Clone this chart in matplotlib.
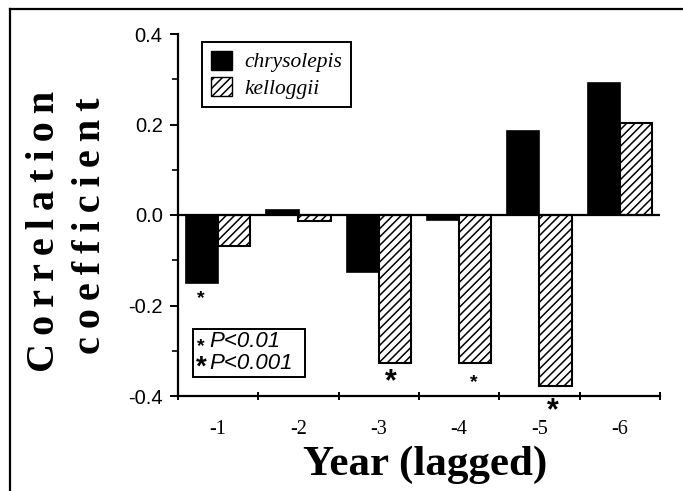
import matplotlib
matplotlib.use("Agg")
import matplotlib.pyplot as plt
import numpy as np
from matplotlib.patches import Rectangle, Patch
from matplotlib.lines import Line2D

# ---- data ----
lags = ["-1", "-2", "-3", "-4", "-5", "-6"]
chrysolepis = [-0.151, 0.012, -0.126, -0.010, 0.186, 0.292]
kelloggii = [-0.069, -0.013, -0.328, -0.328, -0.378, 0.204]
series_names = ["chrysolepis", "kelloggii"]
# significance marks: (lag, series, level)
significance = [("-1", "chrysolepis", "P<0.01"),
                ("-3", "kelloggii", "P<0.001"),
                ("-4", "kelloggii", "P<0.01"),
                ("-5", "kelloggii", "P<0.001")]
yticks = [-0.4, -0.2, 0.0, 0.2, 0.4]
ytick_labels = ["-0.4", "-0.2", "0.0", "0.2", "0.4"]

# placement of the significance marks below the bars (points)
sig_offsets = [(-1, -14), (-3, -19), (-1, -17), (-2, -24)]

plt.rcParams['axes.unicode_minus'] = False
plt.rcParams['hatch.linewidth'] = 1.1
plt.rcParams['hatch.color'] = 'black'

W, H = 683, 491
fig = plt.figure(figsize=(W / 100, H / 100), dpi=100)
L, R, T, B = 178, 660, 34, 396
ax = fig.add_axes([L / W, 1 - B / H, (R - L) / W, (B - T) / H])

x = np.arange(len(lags))
bw = 0.4
ax.bar(x - bw / 2, chrysolepis, bw, color='black', edgecolor='black', linewidth=1.2)
ax.bar(x + bw / 2, kelloggii, bw, color='white', edgecolor='black', linewidth=1.5, hatch='////')

ax.set_xlim(-0.5, len(lags) - 0.5)
ax.set_ylim(-0.4, 0.4)
ax.axhline(0, color='black', linewidth=1.6, zorder=3)

for s in ['top', 'right']:
    ax.spines[s].set_visible(False)
ax.spines['left'].set_linewidth(1.6)
ax.spines['bottom'].set_linewidth(1.6)

ax.set_yticks(yticks)
ax.set_yticklabels(ytick_labels, fontfamily='Liberation Sans', fontsize=14.5)
ax.set_yticks([-0.3, -0.1, 0.1, 0.3], minor=True)
ax.tick_params(axis='y', which='major', direction='out', length=6, width=1.4, pad=5)
ax.tick_params(axis='y', which='minor', direction='out', length=4, width=1.2)

ax.set_xticks(x)
ax.set_xticklabels(lags, fontfamily='Liberation Serif', fontsize=14.5)
ax.set_xticks(np.arange(-0.5, len(lags)), minor=True)
ax.tick_params(axis='x', which='major', length=0, pad=17)
ax.tick_params(axis='x', which='minor', direction='inout', length=6, width=1.4)

# significance asterisks
vals = {"chrysolepis": chrysolepis, "kelloggii": kelloggii}
offs = {"chrysolepis": -bw / 2, "kelloggii": bw / 2}
for (lag, ser, lev), (dx, dy) in zip(significance, sig_offsets):
    i = lags.index(lag)
    v = vals[ser][i]
    size = 14 if lev == "P<0.01" else 22
    ax.annotate("*", (i + offs[ser], v), xytext=(dx, dy), textcoords='offset points',
                ha='center', va='baseline', fontsize=size, fontweight='bold',
                fontfamily='Liberation Sans', annotation_clip=False)

# species legend
handles = [Patch(facecolor='black', edgecolor='black'),
           Patch(facecolor='white', edgecolor='black', hatch='////')]
leg = ax.legend(handles, series_names, loc='upper left',
                bbox_to_anchor=((202 - L) / (R - L), (B - 42) / (B - T)),
                prop={'family': 'Liberation Serif', 'style': 'italic', 'size': 15.5},
                frameon=True, fancybox=False, edgecolor='black', framealpha=1,
                handlelength=0.98, handleheight=0.98, handletextpad=0.6,
                borderpad=0.4, labelspacing=0.2, borderaxespad=0)
leg.get_frame().set_linewidth(1.4)

# significance key box
def ax_x(px):
    return (px - L) / (R - L)

def ax_y(py):
    return (B - py) / (B - T)

ax.add_patch(Rectangle((ax_x(193), ax_y(377)), ax_x(305) - ax_x(193), ax_y(329) - ax_y(377),
                       transform=ax.transAxes, facecolor='white', edgecolor='black',
                       linewidth=1.4, zorder=4))
ax.text(ax_x(201), ax_y(351), "*", transform=ax.transAxes,
        fontsize=14, fontweight='bold', fontfamily='Liberation Sans', ha='center',
        va='baseline', zorder=5)
ax.text(ax_x(209), ax_y(347), "P<0.01", transform=ax.transAxes,
        fontsize=16, style='italic', fontfamily='Liberation Sans', ha='left',
        va='baseline', zorder=5)
ax.text(ax_x(201), ax_y(375), "*", transform=ax.transAxes,
        fontsize=20, fontweight='bold', fontfamily='Liberation Sans', ha='center',
        va='baseline', zorder=5)
ax.text(ax_x(209), ax_y(369), "P<0.001", transform=ax.transAxes,
        fontsize=16, style='italic', fontfamily='Liberation Sans', ha='left',
        va='baseline', zorder=5)

# axis titles
fig.text(425 / W, 1 - 475 / H, "Year (lagged)", ha='center', va='baseline',
         fontfamily='Liberation Serif', fontweight='bold', fontsize=31)
ts = "\u2009"
fig.text(45 / W, 1 - 231 / H, ts.join("Correlation"), rotation=90, ha='center', va='center',
         fontfamily='Liberation Serif', fontweight='bold', fontsize=29)
fig.text(90 / W, 1 - 226 / H, ts.join("coefficient"), rotation=90, ha='center', va='center',
         fontfamily='Liberation Serif', fontweight='bold', fontsize=29)

# outer frame
fig.add_artist(Line2D([10 / W, 10 / W], [0, 1 - 9 / H], transform=fig.transFigure,
                      color='black', linewidth=1.6))
fig.add_artist(Line2D([10 / W, 1], [1 - 9 / H, 1 - 9 / H], transform=fig.transFigure,
                      color='black', linewidth=1.6))

fig.savefig("out.png", dpi=100)
